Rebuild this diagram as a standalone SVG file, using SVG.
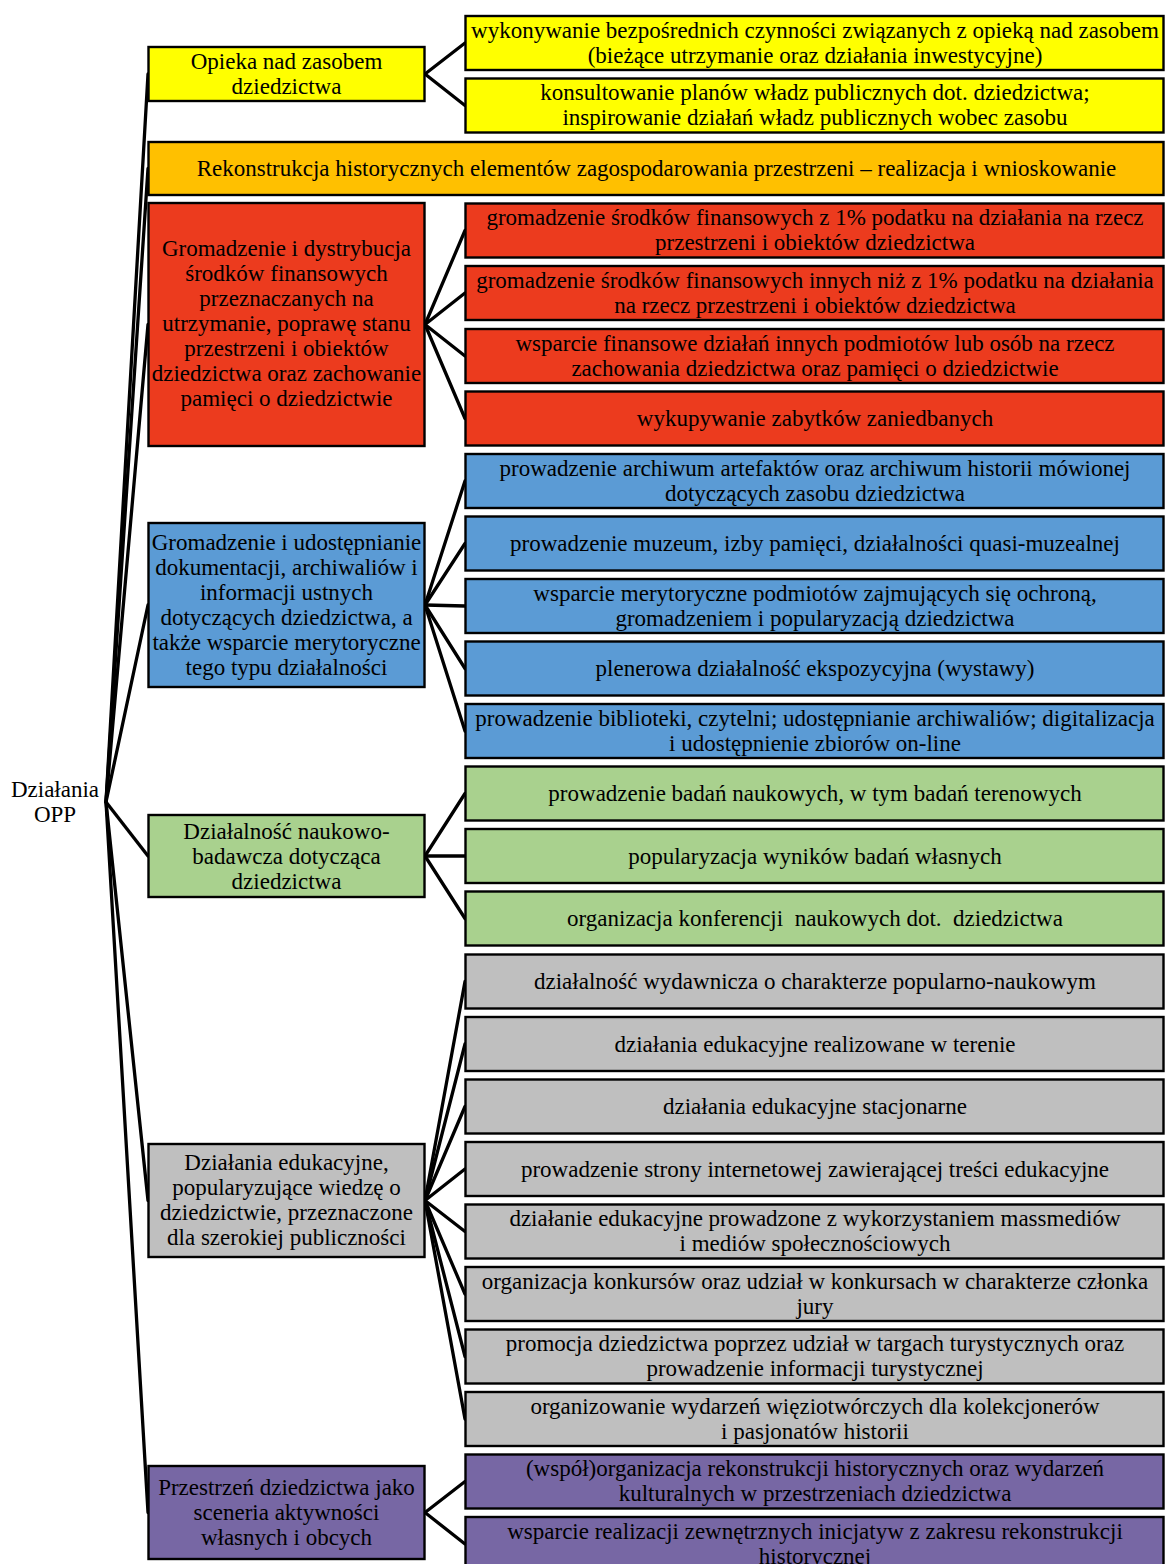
<svg xmlns="http://www.w3.org/2000/svg" width="1165" height="1564" viewBox="0 0 1165 1564">
<style>
text{font-family:"Liberation Serif","Times New Roman",serif;font-size:23px;fill:#000;text-anchor:middle}
.box{stroke:#000;stroke-width:2.4}
.y{fill:#FFFF00}.o{fill:#FFC000}.r{fill:#EC3B1E}.b{fill:#5B9BD5}.g{fill:#A9D18E}.s{fill:#BFBFBF}.p{fill:#7767A4}
#connectors line{stroke:#000;stroke-width:3.3;stroke-linecap:round}
</style>
<rect x="0" y="0" width="1165" height="1564" fill="#fff"/>
<g id="connectors">
<line x1="106" y1="802" x2="148" y2="74"/>
<line x1="106" y1="802" x2="148" y2="168.5"/>
<line x1="106" y1="802" x2="148" y2="324.5"/>
<line x1="106" y1="802" x2="148" y2="605"/>
<line x1="106" y1="802" x2="148" y2="856"/>
<line x1="106" y1="802" x2="148" y2="1200.5"/>
<line x1="106" y1="802" x2="148" y2="1512.5"/>
<line x1="425" y1="74" x2="465" y2="43"/>
<line x1="425" y1="74" x2="465" y2="105.5"/>
<line x1="425" y1="324.5" x2="465" y2="230.5"/>
<line x1="425" y1="324.5" x2="465" y2="293"/>
<line x1="425" y1="324.5" x2="465" y2="356"/>
<line x1="425" y1="324.5" x2="465" y2="418.5"/>
<line x1="425" y1="605" x2="465" y2="481"/>
<line x1="425" y1="605" x2="465" y2="543.5"/>
<line x1="425" y1="605" x2="465" y2="606"/>
<line x1="425" y1="605" x2="465" y2="668.5"/>
<line x1="425" y1="605" x2="465" y2="731"/>
<line x1="425" y1="856" x2="465" y2="793.5"/>
<line x1="425" y1="856" x2="465" y2="856"/>
<line x1="425" y1="856" x2="465" y2="918.5"/>
<line x1="425" y1="1200.5" x2="465" y2="981.5"/>
<line x1="425" y1="1200.5" x2="465" y2="1044"/>
<line x1="425" y1="1200.5" x2="465" y2="1106.5"/>
<line x1="425" y1="1200.5" x2="465" y2="1169"/>
<line x1="425" y1="1200.5" x2="465" y2="1231.5"/>
<line x1="425" y1="1200.5" x2="465" y2="1294"/>
<line x1="425" y1="1200.5" x2="465" y2="1356.5"/>
<line x1="425" y1="1200.5" x2="465" y2="1419"/>
<line x1="425" y1="1512.5" x2="465" y2="1481.5"/>
<line x1="425" y1="1512.5" x2="465" y2="1544"/>
</g>
<g id="root"><text x="55" y="797">Działania</text><text x="55" y="822">OPP</text></g>
<g id="cat-opieka"><rect class="box y" x="148.5" y="47" width="276" height="54"/><text x="286.5" y="68.5">Opieka nad zasobem</text><text x="286.5" y="93.5">dziedzictwa</text></g>
<g id="cat-rekonstrukcja"><rect class="box o" x="148.5" y="142" width="1015" height="53"/><text x="656.5" y="176">Rekonstrukcja historycznych elementów zagospodarowania przestrzeni – realizacja i wnioskowanie</text></g>
<g id="cat-finanse"><rect class="box r" x="148.5" y="203" width="276" height="243"/><text x="286.5" y="256">Gromadzenie i dystrybucja</text><text x="286.5" y="281">środków finansowych</text><text x="286.5" y="306">przeznaczanych na</text><text x="286.5" y="331">utrzymanie, poprawę stanu</text><text x="286.5" y="356">przestrzeni i obiektów</text><text x="286.5" y="381">dziedzictwa oraz zachowanie</text><text x="286.5" y="406">pamięci o dziedzictwie</text></g>
<g id="cat-dokumentacja"><rect class="box b" x="148.5" y="523" width="276" height="164"/><text x="286.5" y="549.5">Gromadzenie i udostępnianie</text><text x="286.5" y="574.5">dokumentacji, archiwaliów i</text><text x="286.5" y="599.5">informacji ustnych</text><text x="286.5" y="624.5">dotyczących dziedzictwa, a</text><text x="286.5" y="649.5">także wsparcie merytoryczne</text><text x="286.5" y="674.5">tego typu działalności</text></g>
<g id="cat-naukowa"><rect class="box g" x="148.5" y="815" width="276" height="82"/><text x="286.5" y="838.5">Działalność naukowo-</text><text x="286.5" y="863.5">badawcza dotycząca</text><text x="286.5" y="888.5">dziedzictwa</text></g>
<g id="cat-edukacja"><rect class="box s" x="148.5" y="1144" width="276" height="113"/><text x="286.5" y="1170">Działania edukacyjne,</text><text x="286.5" y="1195">popularyzujące wiedzę o</text><text x="286.5" y="1220">dziedzictwie, przeznaczone</text><text x="286.5" y="1245">dla szerokiej publiczności</text></g>
<g id="cat-przestrzen"><rect class="box p" x="148.5" y="1466" width="276" height="93"/><text x="286.5" y="1495">Przestrzeń dziedzictwa jako</text><text x="286.5" y="1520">sceneria aktywności</text><text x="286.5" y="1545">własnych i obcych</text></g>
<g id="y1"><rect class="box y" x="465.5" y="16" width="698" height="54"/><text x="815" y="37.5">wykonywanie bezpośrednich czynności związanych z opieką nad zasobem</text><text x="815" y="62.5">(bieżące utrzymanie oraz działania inwestycyjne)</text></g>
<g id="y2"><rect class="box y" x="465.5" y="78.5" width="698" height="54"/><text x="815" y="100">konsultowanie planów władz publicznych dot. dziedzictwa;</text><text x="815" y="125">inspirowanie działań władz publicznych wobec zasobu</text></g>
<g id="r1"><rect class="box r" x="465.5" y="203.5" width="698" height="54"/><text x="815" y="225">gromadzenie środków finansowych z 1% podatku na działania na rzecz</text><text x="815" y="250">przestrzeni i obiektów dziedzictwa</text></g>
<g id="r2"><rect class="box r" x="465.5" y="266" width="698" height="54"/><text x="815" y="287.5">gromadzenie środków finansowych innych niż z 1% podatku na działania</text><text x="815" y="312.5">na rzecz przestrzeni i obiektów dziedzictwa</text></g>
<g id="r3"><rect class="box r" x="465.5" y="329" width="698" height="54"/><text x="815" y="350.5">wsparcie finansowe działań innych podmiotów lub osób na rzecz</text><text x="815" y="375.5">zachowania dziedzictwa oraz pamięci o dziedzictwie</text></g>
<g id="r4"><rect class="box r" x="465.5" y="391.5" width="698" height="54"/><text x="815" y="426">wykupywanie zabytków zaniedbanych</text></g>
<g id="b1"><rect class="box b" x="465.5" y="454" width="698" height="54"/><text x="815" y="475.5">prowadzenie archiwum artefaktów oraz archiwum historii mówionej</text><text x="815" y="500.5">dotyczących zasobu dziedzictwa</text></g>
<g id="b2"><rect class="box b" x="465.5" y="516.5" width="698" height="54"/><text x="815" y="551">prowadzenie muzeum, izby pamięci, działalności quasi-muzealnej</text></g>
<g id="b3"><rect class="box b" x="465.5" y="579" width="698" height="54"/><text x="815" y="600.5">wsparcie merytoryczne podmiotów zajmujących się ochroną,</text><text x="815" y="625.5">gromadzeniem i popularyzacją dziedzictwa</text></g>
<g id="b4"><rect class="box b" x="465.5" y="641.5" width="698" height="54"/><text x="815" y="676">plenerowa działalność ekspozycyjna (wystawy)</text></g>
<g id="b5"><rect class="box b" x="465.5" y="704" width="698" height="54"/><text x="815" y="725.5">prowadzenie biblioteki, czytelni; udostępnianie archiwaliów; digitalizacja</text><text x="815" y="750.5">i udostępnienie zbiorów on-line</text></g>
<g id="g1"><rect class="box g" x="465.5" y="766.5" width="698" height="54"/><text x="815" y="801">prowadzenie badań naukowych, w tym badań terenowych</text></g>
<g id="g2"><rect class="box g" x="465.5" y="829" width="698" height="54"/><text x="815" y="863.5">popularyzacja wyników badań własnych</text></g>
<g id="g3"><rect class="box g" x="465.5" y="891.5" width="698" height="54"/><text x="815" y="926" xml:space="preserve">organizacja konferencji  naukowych dot.  dziedzictwa</text></g>
<g id="s1"><rect class="box s" x="465.5" y="954.5" width="698" height="54"/><text x="815" y="989">działalność wydawnicza o charakterze popularno-naukowym</text></g>
<g id="s2"><rect class="box s" x="465.5" y="1017" width="698" height="54"/><text x="815" y="1051.5">działania edukacyjne realizowane w terenie</text></g>
<g id="s3"><rect class="box s" x="465.5" y="1079.5" width="698" height="54"/><text x="815" y="1114">działania edukacyjne stacjonarne</text></g>
<g id="s4"><rect class="box s" x="465.5" y="1142" width="698" height="54"/><text x="815" y="1176.5">prowadzenie strony internetowej zawierającej treści edukacyjne</text></g>
<g id="s5"><rect class="box s" x="465.5" y="1204.5" width="698" height="54"/><text x="815" y="1226">działanie edukacyjne prowadzone z wykorzystaniem massmediów</text><text x="815" y="1251">i mediów społecznościowych</text></g>
<g id="s6"><rect class="box s" x="465.5" y="1267" width="698" height="54"/><text x="815" y="1288.5">organizacja konkursów oraz udział w konkursach w charakterze członka</text><text x="815" y="1313.5">jury</text></g>
<g id="s7"><rect class="box s" x="465.5" y="1329.5" width="698" height="54"/><text x="815" y="1351">promocja dziedzictwa poprzez udział w targach turystycznych oraz</text><text x="815" y="1376">prowadzenie informacji turystycznej</text></g>
<g id="s8"><rect class="box s" x="465.5" y="1392" width="698" height="54"/><text x="815" y="1413.5">organizowanie wydarzeń więziotwórczych dla kolekcjonerów</text><text x="815" y="1438.5">i pasjonatów historii</text></g>
<g id="p1"><rect class="box p" x="465.5" y="1454.5" width="698" height="54"/><text x="815" y="1476">(współ)organizacja rekonstrukcji historycznych oraz wydarzeń</text><text x="815" y="1501">kulturalnych w przestrzeniach dziedzictwa</text></g>
<g id="p2"><rect class="box p" x="465.5" y="1517" width="698" height="60"/><text x="815" y="1538.5">wsparcie realizacji zewnętrznych inicjatyw z zakresu rekonstrukcji</text><text x="815" y="1563.5">historycznej</text></g>
</svg>
